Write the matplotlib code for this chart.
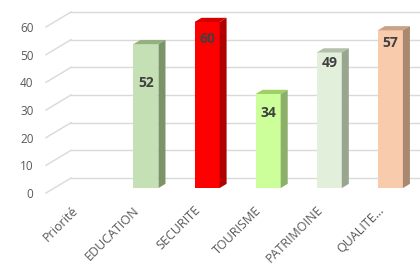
import matplotlib.pyplot as plt
from matplotlib.patches import Polygon

# données
categories = ["Priorité", "EDUCATION", "SECURITE", "TOURISME", "PATRIMOINE", "QUALITE..."]
valeurs = [None, 52, 60, 34, 49, 57]
yticks = [0, 10, 20, 30, 40, 50, 60]

# couleurs (face, dessus, côté)
face = [None, "#c5e0b4", "#ff0000", "#ccff99", "#e2efda", "#f8cbad"]
dessus = [None, "#93b07f", "#d40000", "#9ed065", "#b4c0aa", "#c9a287"]
cote = [None, "#7a9468", "#b00000", "#8caf6a", "#9aa590", "#a98870"]
# décalage des étiquettes sous le haut de la barre
decal_label = [None, 14.0, 6.1, 6.9, 3.8, 4.6]

# profondeur "3D" (en unités de données)
DX, DY = 0.41, 5.42
D0, DB = 0.33, 0.28
LARG = 0.41

plt.rcParams['font.family'] = ['Open Sans', 'DejaVu Sans']

fig = plt.figure(figsize=(4.2, 2.67), dpi=100)
ax = fig.add_axes([46 / 420, 74 / 267, 374 / 420, 185.4 / 267])
ax.set_xlim(-0.5, 5.62)
ax.set_ylim(0, 67)
for s in ax.spines.values():
    s.set_visible(False)

# grille en perspective
for t in yticks:
    ax.plot([-0.5, -0.5 + DX], [t, t + DY], color="#d9d9d9", lw=1, zorder=1, clip_on=False)
    ax.plot([-0.5 + DX, 5.62], [t + DY, t + DY], color="#d9d9d9", lw=1, zorder=1)

# barres
for i, v in enumerate(valeurs):
    if v is None:
        continue
    x0 = i + D0 * DX - LARG / 2
    x1 = x0 + LARG
    y0 = D0 * DY
    y1 = y0 + v
    ax.bar(x0, v, width=LARG, bottom=y0, align="edge", color=face[i], lw=0, zorder=3)
    ax.add_patch(Polygon([(x0, y1), (x1, y1), (x1 + DB * DX, y1 + DB * DY), (x0 + DB * DX, y1 + DB * DY)],
                         closed=True, color=dessus[i], lw=0, zorder=3))
    ax.add_patch(Polygon([(x1, y0), (x1 + DB * DX, y0 + DB * DY), (x1 + DB * DX, y1 + DB * DY), (x1, y1)],
                         closed=True, color=cote[i], lw=0, zorder=3))
    ax.text(x0 + LARG / 2, y1 - decal_label[i], str(v), ha="center", va="center",
            fontsize=10, fontweight="bold", color="#404040", zorder=4)

ax.set_yticks(yticks)
ax.set_yticklabels([str(t) for t in yticks], fontsize=8.5, color="#595959")
ax.set_xticks(range(len(categories)))
ax.set_xticklabels(categories, rotation=45, ha="right", va="center", rotation_mode="anchor",
                   fontsize=9, color="#595959")
ax.tick_params(axis="y", length=0, pad=9)
ax.tick_params(axis="x", length=0, pad=11)

fig.savefig("out.png", dpi=100)
